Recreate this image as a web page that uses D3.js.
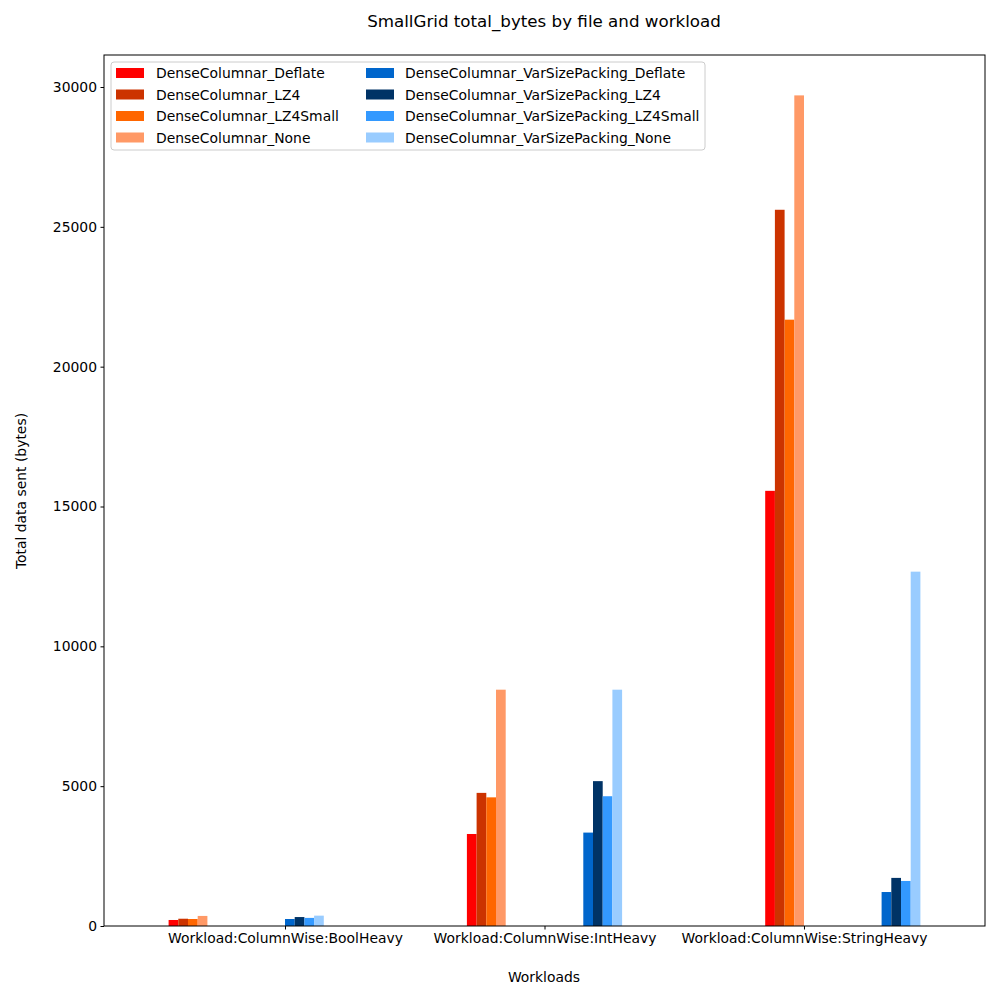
<!DOCTYPE html>
<html><head><meta charset="utf-8">
<script src="https://cdn.jsdelivr.net/npm/d3@7"></script>
<style>body{margin:0;background:#fff}text{font-family:"DejaVu Sans",sans-serif}</style>
</head><body><svg id="c" width="1000" height="1000"></svg>
<script>
const categories=["Workload:ColumnWise:BoolHeavy","Workload:ColumnWise:IntHeavy","Workload:ColumnWise:StringHeavy"];
const series=["DenseColumnar_Deflate","DenseColumnar_LZ4","DenseColumnar_LZ4Small","DenseColumnar_None","DenseColumnar_VarSizePacking_Deflate","DenseColumnar_VarSizePacking_LZ4","DenseColumnar_VarSizePacking_LZ4Small","DenseColumnar_VarSizePacking_None"];
const colors=["#ff0000","#cc3300","#ff6600","#ff9966","#0066cc","#003366","#3399ff","#99ccff"];
const slots=[0,1,2,3,12,13,14,15];
const values=[
 [215,3290,15560],
 [260,4760,25610],
 [250,4600,21680],
 [360,8450,29700],
 [250,3340,1215],
 [320,5180,1720],
 [290,4640,1610],
 [370,8450,12670]];
const yTicks=[0,5000,10000,15000,20000,25000,30000];
const svg=d3.select("#c");
const L=104,R=985,T=55,B=926;
const x=d3.scalePoint().domain(categories).range([L,R]).padding(0.6975);
const y=d3.scaleLinear().domain([0,30000]).range([B,87]);
const w=9.7;
series.forEach((s,i)=>{
 svg.append("g").selectAll("rect").data(values[i]).join("rect")
  .attr("x",(d,j)=>x(categories[j])+(slots[i]-12+4*j)*w).attr("width",w)
  .attr("y",d=>y(d)).attr("height",d=>B-y(d)).attr("fill",colors[i]);
});
const ya=svg.append("g").attr("transform",`translate(${L},0)`).call(d3.axisLeft(y).tickValues(yTicks).tickFormat(d3.format("d")).tickSizeOuter(0).tickSize(3.5).tickPadding(3.5));
const xa=svg.append("g").attr("transform",`translate(0,${B})`).call(d3.axisBottom(x).tickSizeOuter(0).tickSize(3.5).tickPadding(3.5));
[ya,xa].forEach(a=>{a.selectAll("text").attr("font-size",13.9).attr("fill","#000");a.select(".domain").remove();});
svg.append("rect").attr("x",L).attr("y",T).attr("width",R-L).attr("height",B-T).attr("fill","none").attr("stroke","#000");
svg.append("text").attr("x",544).attr("y",27).attr("text-anchor","middle").attr("font-size",16.7).text("SmallGrid total_bytes by file and workload");
svg.append("text").attr("x",544).attr("y",982).attr("text-anchor","middle").attr("font-size",13.9).text("Workloads");
svg.append("text").attr("transform","translate(26,491) rotate(-90)").attr("text-anchor","middle").attr("font-size",13.9).text("Total data sent (bytes)");
const lg=svg.append("g");
lg.append("rect").attr("x",111).attr("y",62).attr("width",594).attr("height",88).attr("rx",3).attr("fill","#fff").attr("fill-opacity",0.8).attr("stroke","#ccc");
series.forEach((s,i)=>{
 const col=Math.floor(i/4),row=i%4;
 const gx=col?366:116, tx=col?405:156, cy=73+row*21.5;
 lg.append("rect").attr("x",gx).attr("y",cy-5).attr("width",28).attr("height",10).attr("fill",colors[i]);
 lg.append("text").attr("x",tx).attr("y",cy+5).attr("font-size",13.9).text(s);
});
</script></body></html>
